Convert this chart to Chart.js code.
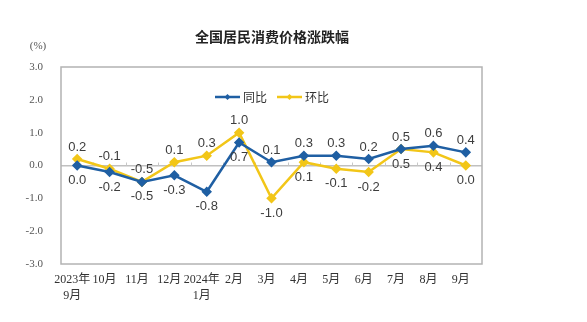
<!DOCTYPE html>
<html>
<head>
<meta charset="utf-8">
<script src="https://cdn.jsdelivr.net/npm/chart.js@4.4.1/dist/chart.umd.min.js"></script>
<style>
  html, body { margin: 0; padding: 0; background: #fff; }
  #wrap { width: 587px; height: 322px; }
</style>
</head>
<body>
<div id="wrap"><canvas id="cpiChart" width="587" height="322"></canvas></div>
<script>
// months shown on the x axis (multi-line ones are arrays)
var months = [['2023年', '9月'], '10月', '11月', '12月', ['2024年', '1月'], '2月', '3月', '4月', '5月', '6月', '7月', '8月', '9月'];
// year-on-year change, %
var yoy = [0.0, -0.2, -0.5, -0.3, -0.8, 0.7, 0.1, 0.3, 0.3, 0.2, 0.5, 0.6, 0.4];
// month-on-month change, %
var mom = [0.2, -0.1, -0.5, 0.1, 0.3, 1.0, -1.0, 0.1, -0.1, -0.2, 0.5, 0.4, 0.0];
var yTicks = [-3, -2, -1, 0, 1, 2, 3];

var BLUE = '#1f5fa3';
var YELLOW = '#f2c618';
var labelFont = '13px "Liberation Sans", Arial, sans-serif';

// frame, zero-line ticks, title, legend and point values
var decorations = {
  id: 'decorations',
  beforeDatasetsDraw: function (chart) {
    var ctx = chart.ctx;
    var a = chart.chartArea;
    var x = chart.scales.x;
    var y = chart.scales.y;
    var y0 = y.getPixelForValue(0);
    var step = (a.right - a.left) / months.length;

    ctx.save();
    ctx.strokeStyle = '#b3b3b3';
    ctx.lineWidth = 1.5;
    ctx.strokeRect(a.left, a.top, a.right - a.left, a.bottom - a.top);

    ctx.strokeStyle = '#c8c8c8';
    ctx.lineWidth = 1;
    for (var i = 1; i < months.length; i++) {
      var tx = Math.round(x.getPixelForValue(i) - step / 2) + 0.5;
      ctx.beginPath();
      ctx.moveTo(tx, y0);
      ctx.lineTo(tx, y0 - 3);
      ctx.stroke();
    }
    ctx.restore();
  },
  afterDatasetsDraw: function (chart) {
    var ctx = chart.ctx;
    ctx.save();

    // title and unit
    ctx.fillStyle = '#222';
    ctx.textAlign = 'center';
    ctx.textBaseline = 'middle';
    ctx.font = 'bold 14px "Noto Sans CJK SC", sans-serif';
    ctx.fillText('全国居民消费价格涨跌幅', 272, 37);
    ctx.fillStyle = '#555';
    ctx.font = '11px "Liberation Serif", serif';
    ctx.fillText('(%)', 38, 46);

    // legend inside the plot
    var items = [
      { text: '同比', color: BLUE, x: 215 },
      { text: '环比', color: YELLOW, x: 277 }
    ];
    var ly = 97;
    items.forEach(function (it) {
      ctx.strokeStyle = it.color;
      ctx.lineWidth = 2.5;
      ctx.beginPath();
      ctx.moveTo(it.x, ly);
      ctx.lineTo(it.x + 25, ly);
      ctx.stroke();
      ctx.fillStyle = it.color;
      ctx.beginPath();
      ctx.moveTo(it.x + 12.5, ly - 3);
      ctx.lineTo(it.x + 15.5, ly);
      ctx.lineTo(it.x + 12.5, ly + 3);
      ctx.lineTo(it.x + 9.5, ly);
      ctx.closePath();
      ctx.fill();
      ctx.fillStyle = '#333';
      ctx.textAlign = 'left';
      ctx.font = '12px "Noto Sans CJK SC", sans-serif';
      ctx.fillText(it.text, it.x + 28, ly);
    });

    // value labels: the higher series above its point, the lower below
    ctx.font = labelFont;
    ctx.fillStyle = '#3d3d3d';
    ctx.textAlign = 'center';
    var blueMeta = chart.getDatasetMeta(0).data;
    var yellowMeta = chart.getDatasetMeta(1).data;
    for (var i = 0; i < months.length; i++) {
      var yellowUp = mom[i] >= yoy[i];
      var b = blueMeta[i], w = yellowMeta[i];
      ctx.fillText(yoy[i].toFixed(1), b.x, yellowUp ? b.y + 15 : b.y - 12);
      ctx.fillText(mom[i].toFixed(1), w.x, yellowUp ? w.y - 12 : w.y + 15);
    }
    ctx.restore();
  }
};

var ctx = document.getElementById('cpiChart').getContext('2d');
var chart = new Chart(ctx, {
  type: 'line',
  data: {
    labels: months,
    datasets: [
      {
        label: '同比',
        data: yoy,
        borderColor: BLUE,
        backgroundColor: BLUE,
        borderWidth: 2.5,
        pointStyle: 'rectRot',
        pointRadius: 3.5,
        tension: 0
      },
      {
        label: '环比',
        data: mom,
        borderColor: YELLOW,
        backgroundColor: YELLOW,
        borderWidth: 2.5,
        pointStyle: 'rectRot',
        pointRadius: 3.5,
        tension: 0
      }
    ]
  },
  options: {
    responsive: false,
    animation: false,
    layout: { padding: { left: 0, right: 105, top: 67, bottom: 0 } },
    plugins: {
      legend: { display: false },
      title: { display: false },
      tooltip: { enabled: false }
    },
    scales: {
      x: {
        offset: true,
        grid: { display: false, drawTicks: false },
        border: { display: false },
        ticks: {
          padding: 8,
          labelOffset: -5,
          maxRotation: 0,
          autoSkip: false,
          color: '#333',
          font: { family: '"Liberation Serif", "Noto Sans CJK SC", serif', size: 12, lineHeight: 1.35 }
        },
        afterFit: function (s) { s.height = 58; }
      },
      y: {
        min: -3,
        max: 3,
        afterBuildTicks: function (s) { s.ticks = yTicks.map(function (v) { return { value: v }; }); },
        grid: {
          drawTicks: false,
          color: function (c) { return c.tick && c.tick.value === 0 ? '#c0c0c0' : 'rgba(0,0,0,0)'; },
          lineWidth: 1.5
        },
        border: { display: false },
        ticks: {
          padding: 18,
          color: '#555',
          font: { family: '"Liberation Serif", serif', size: 11 },
          callback: function (v) { return v.toFixed(1); }
        },
        afterFit: function (s) { s.width = 61; }
      }
    }
  },
  plugins: [decorations]
});
</script>
</body>
</html>
